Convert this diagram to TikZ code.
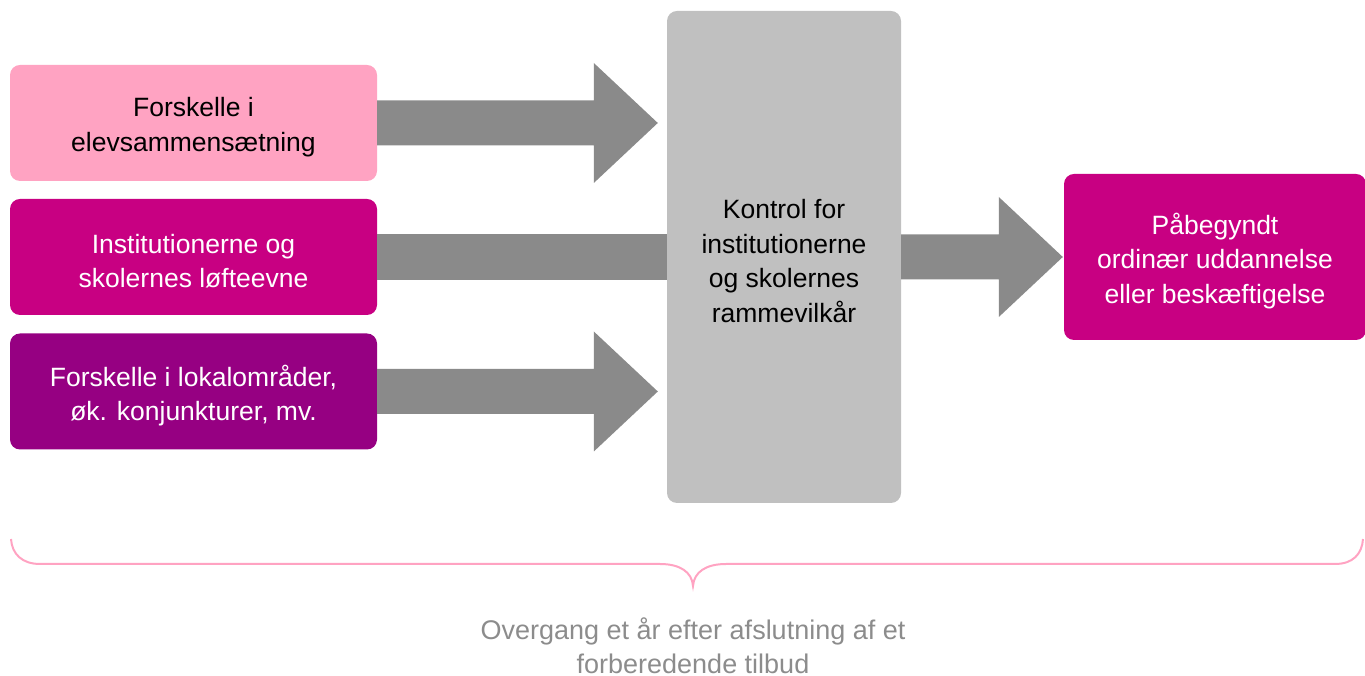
\documentclass[tikz,border=0pt]{standalone}
\usepackage{fontspec}
\setmainfont{Liberation Sans}
\usetikzlibrary{calc}
\definecolor{pinkbox}{RGB}{255,163,194}
\definecolor{magbox}{RGB}{200,0,130}
\definecolor{purbox}{RGB}{150,0,130}
\definecolor{ctrlgray}{RGB}{192,192,192}
\definecolor{arrowgray}{RGB}{138,138,138}
\definecolor{labelgray}{RGB}{140,140,140}
\newcommand\fatarrow[2]{%
  \fill[arrowgray] let \p1=(#1.east), \p2=(#2) in
    (\x1,\y1+22.5pt) -- (\x2-64pt,\y1+22.5pt) -- (\x2-64pt,\y1+60pt) -- (\x2,\y1)
    -- (\x2-64pt,\y1-60pt) -- (\x2-64pt,\y1-22.5pt) -- (\x1,\y1-22.5pt) -- cycle;}
\begin{document}
\begin{tikzpicture}[x=1pt,y=1pt,
  box/.style={rounded corners=10pt, inner sep=0pt},
  boxtext/.style={inner sep=0pt, align=center, yshift=-4pt,
    font=\fontsize{26.5}{34.5}\selectfont},
  lbl/.style={align=center, inner sep=0pt, text=labelgray, font=\fontsize{27}{34.5}\selectfont}]
\useasboundingbox (0,0) rectangle (1365,676);
\node[box, fill=pinkbox, minimum width=367pt, minimum height=116pt] (b1) at (193.5,553) {};
\node[box, fill=magbox, minimum width=367pt, minimum height=116pt] (b2) at (193.5,419) {};
\node[box, fill=purbox, minimum width=367pt, minimum height=116pt] (b3) at (193.5,284.5) {};
\node[box, fill=ctrlgray, minimum width=234pt, minimum height=492pt] (ctrl) at (784,419) {};
\node[box, fill=magbox, minimum width=302pt, minimum height=166pt] (res) at (1215,419) {};
\node[boxtext] (b1t) at (b1.center) {Forskelle i\\elevsammensætning};
\node[boxtext, text=white] (b2t) at (b2.center) {Institutionerne og\\skolernes løfteevne};
\node[boxtext, text=white] (b3t) at (b3.center) {Forskelle i lokalområder,\\øk. konjunkturer, mv.};
\node[boxtext] (ctrlt) at (ctrl.center) {Kontrol for\\institutionerne\\og skolernes\\rammevilkår};
\node[boxtext, text=white] (rest) at (res.center) {Påbegyndt\\ordinær uddannelse\\eller beskæftigelse};
\coordinate (t1) at ($(ctrl.west |- b1)+(-9,0)$);
\coordinate (t3) at ($(ctrl.west |- b3)+(-9,0)$);
\coordinate (t4) at ($(res.west)+(-1,0)$);
\fatarrow{b1}{t1}
\fatarrow{b3}{t3}
\fill[arrowgray] ($(b2.east)+(0,23)$) rectangle ($(ctrl.west |- b2)+(0,-23)$);
\fatarrow{ctrl}{t4}
\draw[pinkbox, line width=2pt]
  (11,137) .. controls (12,122) and (22,112) .. (40,112) -- (660,112)
  .. controls (680,112) and (692,104) .. (693,90)
  .. controls (694,104) and (706,112) .. (726,112) -- (1335,112)
  .. controls (1353,112) and (1362,122) .. (1363,137);
\node[lbl] (cap) at (693,30) {Overgang et år efter afslutning af et\\forberedende tilbud};
\end{tikzpicture}
\end{document}
